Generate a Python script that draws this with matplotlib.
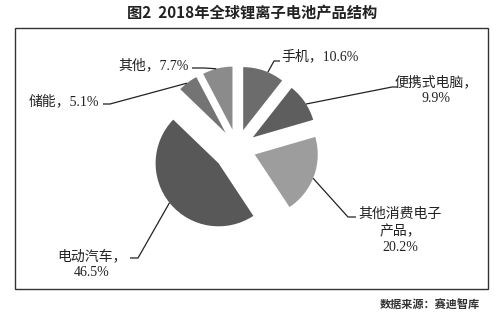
import numpy as np
import matplotlib
matplotlib.use("Agg")
import matplotlib.pyplot as plt
from matplotlib.patches import Rectangle

plt.rcParams['font.family'] = ['Liberation Serif', 'Noto Sans CJK SC', 'DejaVu Sans']

# ---- data ----
categories = ["手机", "便携式电脑", "其他消费电子产品", "电动汽车", "储能", "其他"]
shares = [10.6, 9.9, 20.2, 46.5, 5.1, 7.7]
label_texts = ["手机，10.6%", "便携式电脑，\n9.9%", "其他消费电子\n产品，\n20.2%",
               "电动汽车，\n46.5%", "储能，5.1%", "其他，7.7%"]
colors = ["#6c6c6c", "#5e5e5e", "#9d9d9d", "#585858", "#747474", "#8b8b8b"]
explode_frac = [0.3, 0.3, 0.3, 0.38, 0.3, 0.3]

W, H = 504, 325
fig = plt.figure(figsize=(W / 100, H / 100), dpi=100)
ax = fig.add_axes([0, 0, 1, 1])

def py(y):  # pixel-from-top to data y
    return H - y

cx, cy, R = 237, py(148), 63
wedges, _ = ax.pie(shares, colors=colors, explode=[f * R for f in explode_frac],
                   startangle=90, counterclock=False, center=(cx, cy), radius=R,
                   wedgeprops=dict(linewidth=0))

ax.set_xlim(0, W)
ax.set_ylim(0, H)
ax.set_aspect('equal')
ax.axis('off')

# frame
ax.add_patch(Rectangle((15, py(289)), 473, 261, fill=False, edgecolor="#333333", lw=1.0))

# title
ax.text(252, py(13), "图2  2018年全球锂离子电池产品结构", ha='center', va='center',
        fontsize=11, fontweight='bold', color="#222222",
        family=['Noto Sans CJK SC'])

# labels with leader lines
angle_offsets = [-4, -2, -2, -1, 1, 1]
label_layout = [
    (281, 56, 'left', [(274, 61), (280, 61)]),
    (436, 90, 'center', [(392, 87), (398, 87)]),
    (400, 231, 'center', [(348, 217), (356, 217)]),
    (92, 264, 'center', [(138, 258), (130, 258)]),
    (64, 101, 'center', [(110, 104), (103, 104)]),
    (154, 65, 'center', [(204, 68), (192, 68)]),
]
for w, txt, off, (tx, ty, ha, elbows) in zip(wedges, label_texts, angle_offsets, label_layout):
    a = np.deg2rad((w.theta1 + w.theta2) / 2 + off)
    x0 = w.center[0] + w.r * np.cos(a)
    y0 = w.center[1] + w.r * np.sin(a)
    xs = [x0] + [e[0] for e in elbows]
    ys = [y0] + [py(e[1]) for e in elbows]
    ax.plot(xs, ys, color="#222222", lw=0.9, solid_capstyle='butt')
    ax.text(tx, py(ty), txt, ha=ha, va='center', fontsize=10, color="#222222",
            multialignment='center', linespacing=1.3)

# source
ax.text(480, py(305), "数据来源：赛迪智库", ha='right', va='center', fontsize=8,
        fontweight='bold', color="#333333", family=['Noto Sans CJK SC'])

fig.savefig("out.png", dpi=100)
